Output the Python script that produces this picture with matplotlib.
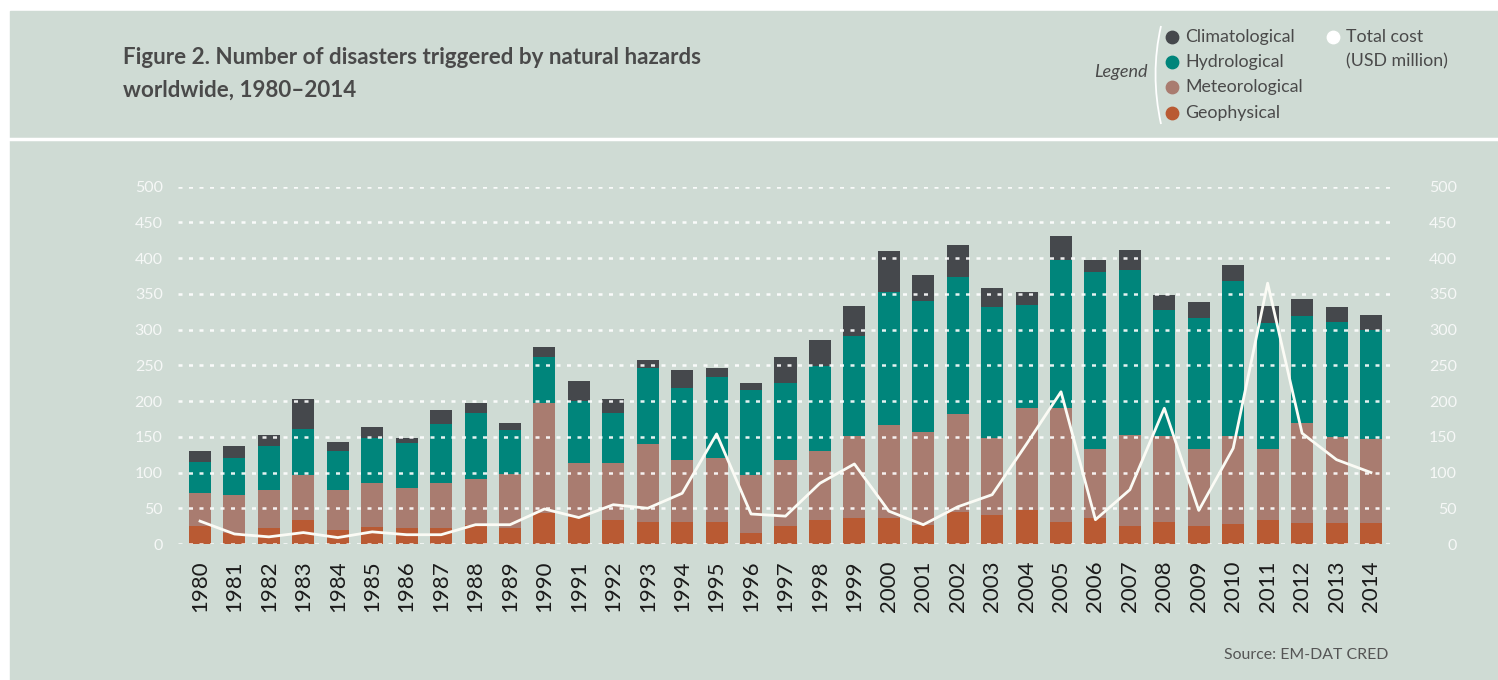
import numpy as np
import matplotlib.pyplot as plt
from matplotlib.patches import Rectangle, PathPatch
from matplotlib.path import Path

years = list(range(1980, 2015))

geophysical = [25, 15, 22, 34, 19, 24, 22, 22, 27, 23, 44, 38, 34, 31, 31, 31, 15, 25,
               34, 37, 37, 27, 45, 41, 47, 31, 37, 25, 31, 25, 28, 34, 30, 30, 30]
meteorological = [47, 54, 54, 63, 57, 61, 57, 63, 64, 75, 153, 76, 80, 109, 87, 90, 82, 93,
                  96, 114, 129, 130, 137, 107, 144, 160, 96, 128, 120, 108, 123, 99, 140, 120, 117]
hydrological = [43, 51, 61, 64, 54, 64, 62, 83, 92, 62, 64, 86, 69, 106, 101, 113, 118, 107,
                119, 140, 186, 183, 192, 183, 143, 206, 247, 230, 176, 183, 217, 176, 149, 160, 152]
climatological = [15, 17, 15, 42, 13, 15, 8, 20, 15, 10, 15, 28, 20, 12, 24, 12, 10, 36,
                  36, 42, 58, 36, 44, 27, 18, 34, 17, 29, 22, 23, 23, 24, 24, 21, 22]
total_cost = [32, 14, 10, 16, 9, 17, 13, 13, 27, 27, 49, 37, 55, 50, 71, 154, 42, 39,
              85, 112, 46, 27, 52, 69, 140, 213, 34, 76, 190, 47, 134, 365, 155, 118, 100]

series_names = ['Climatological', 'Hydrological', 'Meteorological', 'Geophysical']
y_ticks = [0, 50, 100, 150, 200, 250, 300, 350, 400, 450, 500]

BG = '#cfdbd4'
colors = {'Climatological': '#45484c', 'Hydrological': '#00857b',
          'Meteorological': '#a97c70', 'Geophysical': '#b95a33'}
TXT = '#4a4a4a'
FONT = 'Lato'

fig = plt.figure(figsize=(14.98, 6.8), dpi=100)
fig.patch.set_facecolor('white')

# pixel-space layer for panel, header and legend
deco = fig.add_axes([0, 0, 1, 1])
deco.set_xlim(0, 1498)
deco.set_ylim(680, 0)
deco.axis('off')
deco.add_patch(Rectangle((10, 11), 1488, 669, color=BG, zorder=0))
deco.plot([10, 1498], [139, 139], color='white', lw=2.5)

deco.text(123, 58, 'Figure 2. Number of disasters triggered by natural hazards',
          fontsize=16.1, fontweight='bold', color=TXT, family=FONT, va='center')
deco.text(123, 90, 'worldwide, 1980\u20132014',
          fontsize=16.1, fontweight='bold', color=TXT, family=FONT, va='center')

deco.text(1148, 72, 'Legend', fontsize=13, style='italic', color=TXT,
          family=FONT, ha='right', va='center')
bracket = Path([(1161, 26), (1150, 74), (1161, 124)],
               [Path.MOVETO, Path.CURVE3, Path.CURVE3])
deco.add_patch(PathPatch(bracket, fill=False, edgecolor='white', lw=1.3))

row_y = [37, 62, 87, 113]
for name, yy in zip(series_names, row_y):
    deco.scatter([1172], [yy], s=80, color=colors[name], zorder=3)
    deco.text(1185, yy, name, fontsize=12.8, color=TXT, family=FONT, va='center')
deco.scatter([1333], [37], s=80, color='white', zorder=3)
deco.text(1346, 37, 'Total cost', fontsize=12.8, color=TXT, family=FONT, va='center')
deco.text(1346, 61, '(USD million)', fontsize=12.8, color=TXT, family=FONT, va='center')

deco.text(1388, 655, 'Source: EM-DAT CRED', fontsize=11.4, color='#555555',
          family=FONT, ha='right', va='center')

# main chart
ax = fig.add_axes([178 / 1498, 136 / 680, 1215 / 1498, 357.3 / 680])
ax.set_facecolor('none')
x = np.arange(len(years))
w = 0.64

bottom = np.zeros(len(years))
for name, vals in [('Geophysical', geophysical), ('Meteorological', meteorological),
                   ('Hydrological', hydrological), ('Climatological', climatological)]:
    ax.bar(x, vals, w, bottom=bottom, color=colors[name], zorder=1, linewidth=0)
    bottom += np.array(vals)

for t in y_ticks:
    ax.axhline(t, color='white', lw=1.8, ls=(0, (1.6, 2.6)), alpha=0.9, zorder=3)

ax.plot(x, total_cost, color='#fbfbf5', lw=2, zorder=4)

ax.set_xlim(-0.64, len(years) - 1 + 0.64)
ax.set_ylim(0, 500)
ax.set_xticks(x)
ax.set_xticklabels([str(y) for y in years], rotation=90, fontsize=16,
                   color='#1a1a1a', family=FONT)
ax.set_yticks(y_ticks)
ax.set_yticklabels([str(t) for t in y_ticks], fontsize=11.5, color='#f6f8f7', family=FONT)
ax.tick_params(axis='both', length=0)
ax.tick_params(axis='x', pad=12)
ax.tick_params(axis='y', pad=11)
for s in ax.spines.values():
    s.set_visible(False)

ax2 = ax.twinx()
ax2.set_ylim(0, 500)
ax2.set_yticks(y_ticks)
ax2.set_yticklabels([str(t) for t in y_ticks], fontsize=11.5, color='#f6f8f7',
                    family=FONT, ha='right')
ax2.tick_params(axis='y', length=0, pad=46)
for s in ax2.spines.values():
    s.set_visible(False)

fig.savefig('out.png', dpi=100)
